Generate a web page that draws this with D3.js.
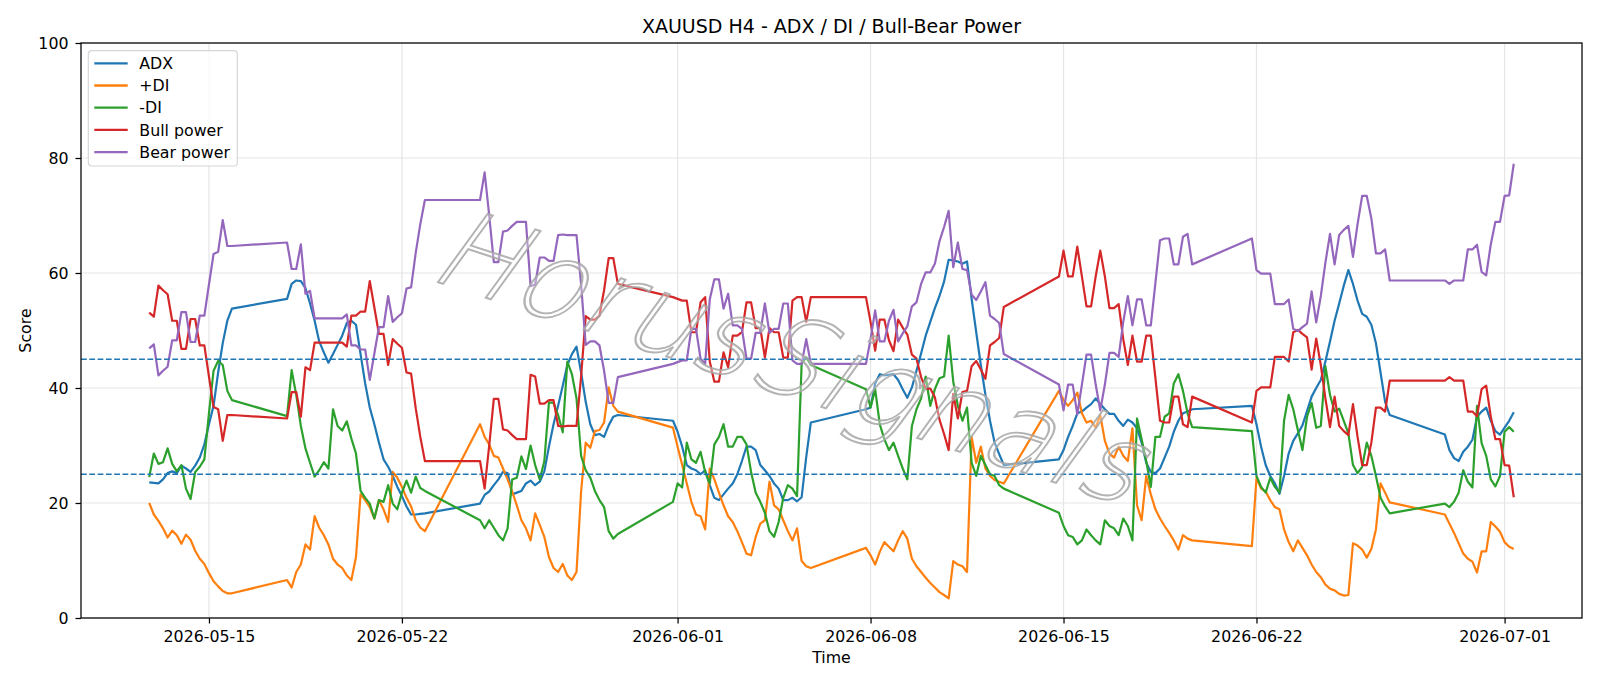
<!DOCTYPE html>
<html>
<head>
<meta charset="utf-8">
<script src="https://cdn.jsdelivr.net/npm/d3@7"></script>
<style>
  body { margin: 0; background: #fff; }
  text { font-family: "DejaVu Sans", sans-serif; }
</style>
</head>
<body>
<svg id="chart"></svg>
<script>
// H4 sessions (UTC): first bar of each trading week and number of 4h bars
const sessionStarts = ["2026-05-12T20:00:00Z", "2026-05-17T20:00:00Z", "2026-05-24T20:00:00Z",
  "2026-05-31T20:00:00Z", "2026-06-07T20:00:00Z", "2026-06-14T20:00:00Z",
  "2026-06-21T20:00:00Z", "2026-06-28T20:00:00Z"];
const sessionBars = [19, 31, 31, 31, 31, 30, 31, 16];

const tickDates = ["2026-05-15", "2026-05-22", "2026-06-01", "2026-06-08", "2026-06-15", "2026-06-22", "2026-07-01"];
const yTicks = [0, 20, 40, 60, 80, 100];
const levels = [25, 45];

// one line per week
const adx = [
  23.6, 23.5, 23.4, 24.1, 25.2, 25.5, 25.2, 26.5, 26.0, 25.4, 26.5, 27.9, 30.2, 33.7, 36.9, 42.7, 47.8, 51.7, 53.8,
  55.5, 58.1, 58.7, 58.6, 57.4, 54.7, 51.7, 48.1, 46.2, 44.4, 45.9, 47.5, 49.1, 51.3, 51.7, 51.0, 45.9, 40.8, 36.6, 33.7, 30.5, 27.6, 26.3, 24.7, 22.8, 21.2, 19.4, 18.0, 18.0, 18.1, 18.2,
  19.9, 21.4, 22.0, 23.1, 24.1, 25.4, 25.2, 21.5, 21.8, 22.1, 23.4, 23.9, 23.1, 23.7, 25.5, 29.8, 33.7, 36.9, 40.4, 44.0, 45.9, 47.2, 42.7, 37.6, 33.7, 31.8, 32.0, 31.5, 33.5, 35.0, 35.3,
  34.3, 32.4, 29.8, 26.6, 26.0, 25.7, 25.0, 25.7, 23.1, 20.9, 20.5, 21.5, 22.5, 23.4, 25.0, 27.3, 29.8, 29.8, 29.2, 26.6, 25.7, 24.7, 23.4, 22.5, 20.5, 20.5, 20.9, 20.3, 21.0, 28.0, 34.0,
  36.3, 36.6, 40.8, 42.4, 42.2, 42.3, 42.4, 41.4, 39.8, 38.3, 40.1, 43.0, 46.0, 49.1, 51.5, 53.9, 56.0, 58.5, 62.3, 62.2, 62.0, 61.6, 62.0, 55.5, 49.7, 44.0, 38.8, 34.3, 30.5, 28.5, 26.6,
  27.6, 29.2, 31.5, 33.4, 35.6, 35.9, 36.6, 37.2, 38.2, 37.2, 36.3, 35.5, 35.5, 34.3, 33.4, 34.5, 34.0, 33.0, 30.5, 27.0, 25.4, 25.2, 26.0, 27.9, 29.8, 32.4, 34.3, 35.6, 35.9, 36.3,
  36.9, 33.7, 29.8, 26.6, 24.7, 23.4, 21.6, 24.7, 28.6, 30.8, 32.1, 33.5, 36.0, 38.5, 40.0, 41.4, 44.6, 48.1, 51.7, 54.7, 57.8, 60.5, 58.1, 55.2, 52.9, 52.4, 51.0, 47.8, 42.7, 37.6, 35.3,
  31.9, 29.2, 27.8, 27.3, 28.9, 29.8, 31.0, 35.0, 35.9, 36.6, 34.3, 32.5, 31.9, 33.1, 34.3, 35.8
];
const plusDI = [
  20.0, 18.0, 16.9, 15.6, 14.0, 15.2, 14.4, 12.9, 14.5, 13.6, 11.7, 10.3, 9.4, 7.8, 6.4, 5.5, 4.7, 4.3, 4.3,
  6.6, 5.3, 8.0, 9.3, 12.8, 11.9, 17.7, 15.7, 14.4, 12.8, 10.3, 9.3, 8.7, 7.4, 6.6, 10.6, 21.5, 20.5, 19.3, 17.3, 20.5, 18.9, 16.7, 25.4, 24.4, 22.8, 20.9, 19.4, 17.0, 15.7, 15.1,
  33.7, 31.5, 30.2, 28.2, 27.9, 26.0, 24.1, 22.0, 19.6, 17.0, 15.6, 13.5, 18.2, 16.2, 14.1, 10.6, 8.7, 8.0, 9.4, 7.4, 6.6, 8.0, 22.0, 30.5, 29.6, 32.5, 32.7, 34.0, 40.1, 36.9, 35.9,
  33.1, 29.8, 26.6, 23.4, 20.2, 18.0, 17.7, 15.4, 26.0, 24.1, 21.8, 19.6, 17.7, 16.7, 15.1, 13.2, 11.2, 10.9, 14.1, 16.4, 17.0, 23.7, 19.6, 18.9, 17.0, 15.1, 13.5, 15.6, 9.9, 9.0, 8.7,
  12.2, 10.9, 9.3, 11.5, 13.2, 12.4, 11.6, 13.5, 15.1, 13.8, 10.3, 9.0, 8.0, 7.0, 6.1, 5.3, 4.5, 4.0, 3.4, 9.9, 9.3, 9.0, 8.0, 31.5, 27.0, 29.8, 26.0, 24.7, 24.0, 23.7, 23.4,
  39.5, 37.9, 36.9, 37.9, 39.2, 35.6, 34.0, 34.3, 33.1, 35.3, 30.8, 28.6, 27.9, 29.8, 28.2, 27.3, 33.0, 19.6, 17.0, 24.7, 21.5, 18.9, 17.3, 16.0, 14.8, 13.5, 11.9, 14.4, 13.8, 13.5,
  12.5, 24.4, 22.5, 22.0, 20.5, 19.3, 18.9, 15.4, 13.2, 11.6, 13.5, 12.2, 10.9, 9.3, 8.0, 7.1, 5.8, 5.1, 4.8, 4.2, 3.9, 4.0, 13.0, 12.6, 11.9, 10.5, 12.0, 15.4, 23.4, 21.8, 20.1,
  18.0, 16.4, 14.8, 13.0, 11.2, 10.3, 9.8, 7.9, 11.6, 11.6, 16.7, 15.9, 15.0, 13.2, 12.4, 12.0
];
const minusDI = [
  24.5, 28.6, 26.8, 27.1, 29.5, 26.8, 25.5, 26.6, 22.5, 20.7, 25.4, 26.3, 27.6, 35.6, 43.0, 44.7, 44.0, 39.5, 37.9,
  35.1, 43.1, 38.8, 33.4, 29.5, 27.0, 24.6, 25.7, 27.1, 26.0, 36.3, 33.4, 32.6, 34.2, 31.2, 28.6, 22.1, 20.9, 19.9, 17.3, 20.5, 20.2, 23.1, 19.9, 18.9, 21.8, 23.9, 21.8, 24.6, 22.6, 22.1,
  17.0, 15.6, 17.0, 15.7, 14.4, 13.5, 15.6, 24.1, 24.4, 28.1, 25.9, 30.0, 26.6, 24.1, 27.3, 37.5, 37.4, 35.3, 32.3, 44.6, 42.4, 38.2, 28.2, 25.7, 24.4, 22.1, 20.5, 19.3, 15.1, 13.8, 14.6,
  20.2, 23.4, 22.7, 30.5, 27.6, 27.0, 28.9, 25.4, 23.4, 30.2, 31.5, 33.7, 29.8, 29.8, 31.5, 31.5, 30.2, 25.4, 21.8, 20.2, 18.3, 15.1, 14.1, 16.7, 20.9, 23.1, 22.5, 21.2, 44.3, 45.3, 44.0,
  39.8, 36.6, 39.8, 33.7, 31.1, 29.2, 30.5, 28.2, 26.0, 24.1, 33.4, 36.3, 38.2, 42.0, 36.9, 39.8, 41.7, 42.0, 49.1, 41.1, 36.9, 34.3, 36.6, 27.0, 24.7, 28.2, 26.6, 25.0, 24.7, 23.1, 22.5,
  18.3, 16.0, 14.4, 14.1, 12.8, 13.5, 15.4, 14.4, 13.5, 12.8, 17.0, 16.0, 15.6, 14.4, 17.3, 16.0, 13.5, 34.7, 31.1, 27.3, 22.8, 31.5, 31.5, 35.0, 35.6, 40.8, 42.4, 39.5, 35.6, 33.2,
  32.5, 24.7, 22.8, 21.8, 24.4, 22.8, 21.8, 34.3, 38.8, 36.3, 32.7, 29.2, 35.0, 37.4, 33.1, 33.4, 43.8, 38.8, 35.9, 36.4, 34.3, 32.1, 26.6, 25.2, 26.3, 30.5, 28.2, 24.7, 20.9, 19.4, 18.2,
  19.9, 19.3, 20.2, 21.8, 25.7, 23.7, 22.7, 36.9, 30.4, 28.2, 24.1, 22.9, 24.7, 32.4, 33.2, 32.4
];
const bullPower = [
  53.1, 52.4, 57.8, 57.0, 56.3, 51.7, 51.7, 46.8, 46.8, 52.0, 52.0, 47.4, 47.4, 42.0, 36.7, 36.3, 30.8, 35.3, 35.3,
  34.7, 39.3, 39.3, 35.0, 43.6, 43.1, 47.9, 47.9, 47.9, 47.9, 47.9, 47.9, 47.9, 47.2, 52.6, 52.6, 53.3, 53.3, 58.6, 54.0, 49.4, 49.4, 44.0, 48.5, 47.7, 47.0, 42.7, 42.5, 36.5, 31.5, 27.3,
  27.3, 22.5, 30.0, 38.1, 38.1, 32.8, 32.6, 31.8, 31.1, 31.1, 31.1, 42.3, 42.0, 37.3, 37.3, 37.9, 37.9, 33.4, 33.3, 33.4, 33.4, 33.4, 42.0, 52.5, 51.9, 51.9, 52.6, 57.0, 62.6, 62.6, 58.1,
  55.8, 55.5, 55.2, 55.2, 49.7, 49.7, 54.9, 55.8, 44.6, 41.1, 41.1, 46.2, 43.6, 49.1, 49.1, 49.7, 54.9, 54.9, 50.4, 50.4, 45.3, 50.4, 49.7, 49.7, 45.3, 45.3, 55.2, 55.8, 55.8, 51.5, 55.8,
  55.8, 51.5, 46.5, 51.9, 51.9, 48.3, 46.4, 51.9, 50.5, 49.3, 45.8, 45.1, 41.9, 39.9, 39.9, 38.4, 34.5, 32.0, 29.2, 39.0, 34.7, 39.3, 39.5, 43.8, 44.7, 43.2, 41.6, 47.4, 48.0, 48.7, 54.1,
  59.4, 63.9, 59.4, 59.4, 64.6, 59.4, 54.2, 54.2, 59.4, 63.9, 59.4, 53.9, 53.9, 54.6, 48.5, 44.0, 49.1, 44.6, 44.6, 49.1, 49.1, 41.7, 34.3, 34.0, 34.0, 38.5, 38.5, 33.7, 33.2, 38.5,
  34.0, 39.5, 40.1, 40.1, 40.1, 45.4, 45.4, 45.4, 44.6, 49.7, 50.1, 49.4, 48.8, 43.2, 48.6, 44.0, 38.2, 33.2, 38.5, 33.4, 32.5, 31.8, 37.2, 31.5, 26.6, 26.6, 30.5, 36.6, 36.6, 35.9, 41.3,
  41.3, 41.9, 41.3, 41.3, 41.3, 35.9, 35.9, 35.1, 39.8, 40.4, 35.0, 31.1, 31.1, 26.6, 26.5, 21.0
];
const bearPower = [
  46.9, 47.6, 42.2, 43.0, 43.7, 48.3, 48.3, 53.2, 53.2, 48.0, 48.0, 52.6, 52.6, 58.0, 63.3, 63.7, 69.2, 64.7, 64.7,
  65.3, 60.7, 60.7, 65.0, 56.4, 56.9, 52.1, 52.1, 52.1, 52.1, 52.1, 52.1, 52.1, 52.8, 47.4, 47.4, 46.7, 46.7, 41.4, 46.0, 50.6, 50.6, 56.0, 51.5, 52.3, 53.0, 57.3, 57.5, 63.5, 68.5, 72.7,
  72.7, 77.5, 70.0, 61.9, 61.9, 67.2, 67.4, 68.2, 68.9, 68.9, 68.9, 57.7, 58.0, 62.7, 62.7, 62.1, 62.1, 66.6, 66.7, 66.6, 66.6, 66.6, 58.0, 47.5, 48.1, 48.1, 47.4, 43.0, 37.4, 37.4, 41.9,
  44.2, 44.5, 44.8, 44.8, 50.3, 50.3, 45.1, 44.2, 55.4, 58.9, 58.9, 53.8, 56.4, 50.9, 50.9, 50.3, 45.1, 45.1, 49.6, 49.6, 54.7, 49.6, 50.3, 50.3, 54.7, 54.7, 44.8, 44.2, 44.2, 48.5, 44.2,
  44.2, 48.5, 53.5, 48.1, 48.1, 51.7, 53.6, 48.1, 49.5, 50.7, 54.2, 54.9, 58.1, 60.1, 60.1, 61.6, 65.5, 68.0, 70.8, 61.0, 65.3, 60.7, 60.5, 56.2, 55.3, 56.8, 58.4, 52.6, 52.0, 51.3, 45.9,
  40.6, 36.1, 40.6, 40.6, 35.4, 40.6, 45.8, 45.8, 40.6, 36.1, 40.6, 46.1, 46.1, 45.4, 51.5, 56.0, 50.9, 55.4, 55.4, 50.9, 50.9, 58.3, 65.7, 66.0, 66.0, 61.5, 61.5, 66.3, 66.8, 61.5,
  66.0, 60.5, 59.9, 59.9, 59.9, 54.6, 54.6, 54.6, 55.4, 50.3, 49.9, 50.6, 51.2, 56.8, 51.4, 56.0, 61.8, 66.8, 61.5, 66.6, 67.5, 68.2, 62.8, 68.5, 73.4, 73.4, 69.5, 63.4, 63.4, 64.1, 58.7,
  58.7, 58.1, 58.7, 58.7, 58.7, 64.1, 64.1, 64.9, 60.2, 59.6, 65.0, 68.9, 68.9, 73.4, 73.5, 79.0
];

const seriesNames = ["ADX", "+DI", "-DI", "Bull power", "Bear power"];
const seriesColors = ["#1f77b4", "#ff7f0e", "#2ca02c", "#d62728", "#9467bd"];
const seriesValues = [adx, plusDI, minusDI, bullPower, bearPower];

// build the 4h timestamps of every session
const times = [];
sessionStarts.forEach((s, i) => {
  const t0 = Date.parse(s);
  for (let k = 0; k < sessionBars[i]; k++) times.push(new Date(t0 + k * 4 * 3600e3));
});
seriesValues.forEach((v, i) => {
  if (v.length !== times.length) console.warn(seriesNames[i], v.length, times.length);
});

const W = 1600, H = 686;
const margin = { top: 43, right: 18, bottom: 68, left: 81 };
const width = W - margin.left - margin.right;
const height = H - margin.top - margin.bottom;

const svg = d3.select("#chart").attr("width", W).attr("height", H);

// matplotlib style 5% margin on the time axis
const ext = d3.extent(times);
const pad = (ext[1] - ext[0]) * 0.05;
const x = d3.scaleUtc()
  .domain([new Date(+ext[0] - pad), new Date(+ext[1] + pad)])
  .range([0, width]);
const y = d3.scaleLinear().domain([0, 100]).range([height, 0]);

const g = svg.append("g").attr("transform", `translate(${margin.left},${margin.top})`);

// grid
const ticksX = tickDates.map(d => new Date(d + "T00:00:00Z"));
g.append("g").selectAll("line").data(ticksX).join("line")
  .attr("x1", d => x(d)).attr("x2", d => x(d))
  .attr("y1", 0).attr("y2", height)
  .attr("stroke", "#e5e5e5").attr("stroke-width", 1.2);
g.append("g").selectAll("line").data(yTicks).join("line")
  .attr("x1", 0).attr("x2", width)
  .attr("y1", d => y(d)).attr("y2", d => y(d))
  .attr("stroke", "#e5e5e5").attr("stroke-width", 1.2);

// series
const line = d3.line()
  .x((d, i) => x(times[i]))
  .y(d => y(d));

seriesValues.forEach((vals, i) => {
  g.append("path")
    .datum(vals)
    .attr("fill", "none")
    .attr("stroke", seriesColors[i])
    .attr("stroke-width", 2.2)
    .attr("stroke-linejoin", "round")
    .attr("d", line);
});

// reference levels
g.append("g").selectAll("line").data(levels).join("line")
  .attr("x1", 0).attr("x2", width)
  .attr("y1", d => y(d)).attr("y2", d => y(d))
  .attr("stroke", "#1f77b4").attr("stroke-width", 1.5)
  .attr("stroke-dasharray", "5.8,2.5");

// watermark
svg.append("text")
  .attr("transform", "translate(776,392) rotate(18) skewX(-18)")
  .attr("text-anchor", "middle")
  .style("font-size", "110px")
  .style("font-weight", 200)
  .style("letter-spacing", "2px")
  .attr("fill", "#ffffff").attr("fill-opacity", 0.35)
  .attr("stroke", "#a6a6a6").attr("stroke-opacity", 0.85).attr("stroke-width", 2)
  .text("HorusSignals");

// axes
const xAxis = d3.axisBottom(x)
  .tickValues(ticksX)
  .tickFormat(d3.utcFormat("%Y-%m-%d"))
  .tickSize(5.5).tickPadding(7.5);
const yAxis = d3.axisLeft(y).tickValues(yTicks).tickSize(5.5).tickPadding(7);

const gx = g.append("g").attr("transform", `translate(0,${height})`).call(xAxis);
const gy = g.append("g").call(yAxis);
[gx, gy].forEach(a => {
  a.select(".domain").remove();
  a.selectAll(".tick line").attr("stroke", "#000").attr("stroke-width", 1.25);
  a.selectAll(".tick text").attr("fill", "#000").style("font-size", "15.8px")
    .style("font-family", "DejaVu Sans");
});

// spines
g.append("rect")
  .attr("width", width).attr("height", height)
  .attr("fill", "none").attr("stroke", "#000").attr("stroke-width", 1.25);

// title and labels
svg.append("text")
  .attr("x", margin.left + width / 2).attr("y", 32.5)
  .attr("text-anchor", "middle").style("font-size", "19px")
  .text("XAUUSD H4 - ADX / DI / Bull-Bear Power");
svg.append("text")
  .attr("x", margin.left + width / 2).attr("y", 662.5)
  .attr("text-anchor", "middle").style("font-size", "15.8px")
  .text("Time");
svg.append("text")
  .attr("transform", `translate(31.3,${margin.top + height / 2}) rotate(-90)`)
  .attr("text-anchor", "middle").style("font-size", "15.8px")
  .text("Score");

// legend
const legend = svg.append("g").attr("transform", "translate(88.3,50.7)");
legend.append("rect")
  .attr("width", 149).attr("height", 115.3).attr("rx", 3.5)
  .attr("fill", "#fff").attr("fill-opacity", 0.8)
  .attr("stroke", "#d6d6d6").attr("stroke-width", 1.2);
seriesNames.forEach((name, i) => {
  const yy = 12.6 + i * 22.2;
  legend.append("line")
    .attr("x1", 6).attr("x2", 39.4).attr("y1", yy).attr("y2", yy)
    .attr("stroke", seriesColors[i]).attr("stroke-width", 2.3);
  legend.append("text")
    .attr("x", 51).attr("y", yy).attr("dy", "0.36em")
    .style("font-size", "15.8px")
    .text(name);
});
</script>
</body>
</html>
